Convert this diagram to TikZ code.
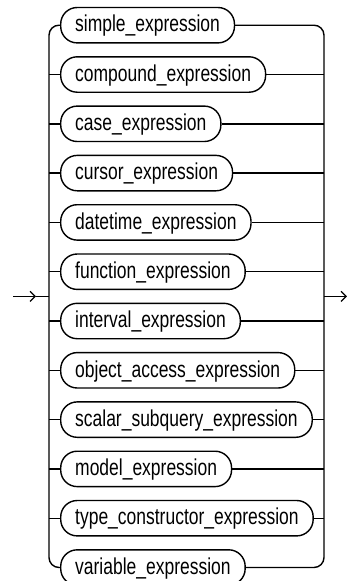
\documentclass[tikz,border=0pt]{standalone}
\usepackage{fontspec}
\setmainfont{Liberation Sans}[FakeStretch=0.76]
\usetikzlibrary{arrows.meta}
\begin{document}
\begin{tikzpicture}[x=1pt,y=-1pt,
  line width=1.4pt,
  termbox/.style={draw, rounded corners=16.5pt, minimum height=35.4pt,
    inner xsep=14.5pt, inner ysep=0pt, anchor=west,
    font=\fontsize{23}{26}\selectfont, text height=17pt, text depth=3.6pt},
  tip/.style={-{Straight Barb[length=5pt,width=10pt,line width=1.3pt]}}]
\useasboundingbox (0,0) rectangle (347,581);
\def\rowy#1{25.2+49.3*#1}
\node[termbox] (simple)   at (60,{\rowy{0}})  {simple\_expression};
\node[termbox] (compound) at (60,{\rowy{1}})  {compound\_expression};
\node[termbox] (case)     at (60,{\rowy{2}})  {case\_expression};
\node[termbox] (cursor)   at (60,{\rowy{3}})  {cursor\_expression};
\node[termbox] (datetime) at (60,{\rowy{4}})  {datetime\_expression};
\node[termbox] (function) at (60,{\rowy{5}})  {function\_expression};
\node[termbox] (interval) at (60,{\rowy{6}})  {interval\_expression};
\node[termbox] (object)   at (60,{\rowy{7}})  {object\_access\_expression};
\node[termbox] (scalar)   at (60,{\rowy{8}})  {scalar\_subquery\_expression};
\node[termbox] (model)    at (60,{\rowy{9}})  {model\_expression};
\node[termbox] (type)     at (60,{\rowy{10}}) {type\_constructor\_expression};
\node[termbox] (variable) at (60,{\rowy{11}}) {variable\_expression};
\coordinate (in)    at (13,296.4);
\coordinate (inmid) at (36,296.4);
\coordinate (lj)    at (49,296.4);
\coordinate (rj)    at (324,296.4);
\coordinate (out)   at (347,296.4);
% left rail
\draw[rounded corners=10pt] (simple.west) -| (lj) |- (variable.west);
\foreach \n in {compound,case,cursor,datetime,function,interval,object,scalar,model,type}
  \draw (\n.west) -- (\n.west -| lj);
% right rail
\draw[rounded corners=10pt] (simple.east) -| (rj) |- (variable.east);
\foreach \n in {compound,case,cursor,datetime,function,interval,object,scalar,model,type}
  \draw (\n.east) -- (\n.east -| rj);
% entry and exit
\draw[tip] (in) -- (inmid);
\draw (inmid) -- (lj);
\draw[tip] (rj) -- (out);
\end{tikzpicture}
\end{document}
